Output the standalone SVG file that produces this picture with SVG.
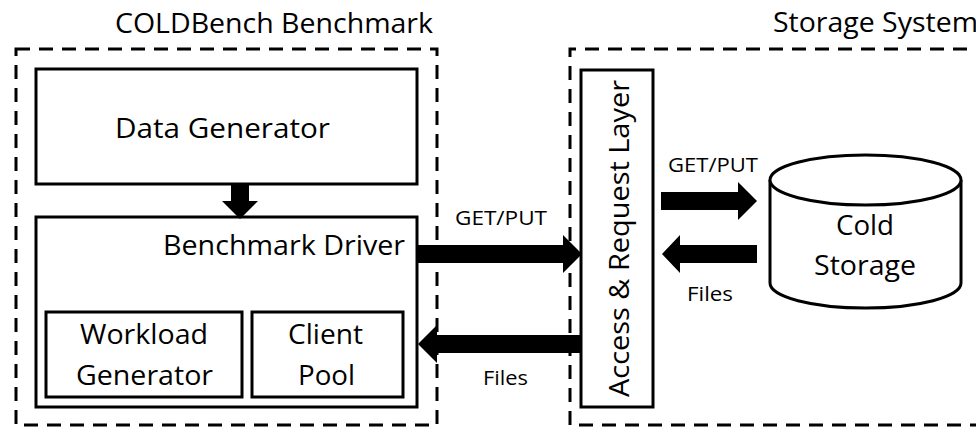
<svg xmlns="http://www.w3.org/2000/svg" width="976" height="428" viewBox="0 0 976 428">
<style>
.box{fill:#fff;stroke:#000;stroke-width:3}
.dash{fill:none;stroke:#000;stroke-width:3;stroke-dasharray:14 9}
.arrow{fill:#000;stroke:none}
text{font-family:"Open Sans","Liberation Sans",sans-serif;fill:#000}
.big{font-size:27px}
.small{font-size:19.5px}
</style>
<rect width="976" height="428" fill="#fff"/>
<g id="coldbench">
<rect class="dash" x="16" y="49" width="421" height="376"/>
<text class="big" x="115" y="33" textLength="318" lengthAdjust="spacingAndGlyphs">COLDBench Benchmark</text>
</g>
<g id="storage-system">
<path class="dash" d="M990 49 H570 V425 H990"/>
<text class="big" x="773" y="32" textLength="205" lengthAdjust="spacingAndGlyphs">Storage System</text>
</g>
<g id="data-generator">
<rect class="box" x="36" y="69" width="381" height="115"/>
<text class="big" x="115" y="138" textLength="215" lengthAdjust="spacingAndGlyphs">Data Generator</text>
</g>
<g id="benchmark-driver">
<rect class="box" x="36" y="217" width="381" height="190"/>
<text class="big" x="163" y="255" textLength="242" lengthAdjust="spacingAndGlyphs">Benchmark Driver</text>
</g>
<g id="workload-generator">
<rect class="box" x="46" y="312" width="196" height="85"/>
<text class="big" x="80" y="344" textLength="128" lengthAdjust="spacingAndGlyphs">Workload</text>
<text class="big" x="76" y="385" textLength="137" lengthAdjust="spacingAndGlyphs">Generator</text>
</g>
<g id="client-pool">
<rect class="box" x="252" y="312" width="151" height="85"/>
<text class="big" x="288" y="344" textLength="75" lengthAdjust="spacingAndGlyphs">Client</text>
<text class="big" x="298" y="385" textLength="57" lengthAdjust="spacingAndGlyphs">Pool</text>
</g>
<g id="access-request-layer">
<rect class="box" x="581" y="70" width="72" height="337"/>
<text class="big" transform="translate(629,397) rotate(-90)" x="0" y="0" textLength="317" lengthAdjust="spacingAndGlyphs">Access &amp; Request Layer</text>
</g>
<g id="cold-storage">
<path class="box" d="M770 180 V283 A95.5 25 0 0 0 961 283 V180"/>
<ellipse class="box" cx="865.5" cy="180" rx="95.5" ry="25"/>
<text class="big" x="836" y="235" textLength="58" lengthAdjust="spacingAndGlyphs">Cold</text>
<text class="big" x="814" y="275" textLength="102" lengthAdjust="spacingAndGlyphs">Storage</text>
</g>
<g id="connectors">
<polygon class="arrow" points="231,184 249,184 249,201 258,201 240,219 222,201 231,201"/>
<polygon class="arrow" points="417,245 563,245 563,235 582,254 563,273 563,263 417,263"/>
<polygon class="arrow" points="582,335 437,335 437,325 418,344 437,363 437,353 582,353"/>
<polygon class="arrow" points="661,192 738,192 738,182 757,201 738,220 738,210 661,210"/>
<polygon class="arrow" points="757,245 680,245 680,235 662,254 680,273 680,263 757,263"/>
<text class="small" x="455" y="225" textLength="92" lengthAdjust="spacingAndGlyphs">GET/PUT</text>
<text class="small" x="483" y="385" textLength="45" lengthAdjust="spacingAndGlyphs">Files</text>
<text class="small" x="668" y="172" textLength="90" lengthAdjust="spacingAndGlyphs">GET/PUT</text>
<text class="small" x="687" y="301" textLength="46" lengthAdjust="spacingAndGlyphs">Files</text>
</g>
</svg>
